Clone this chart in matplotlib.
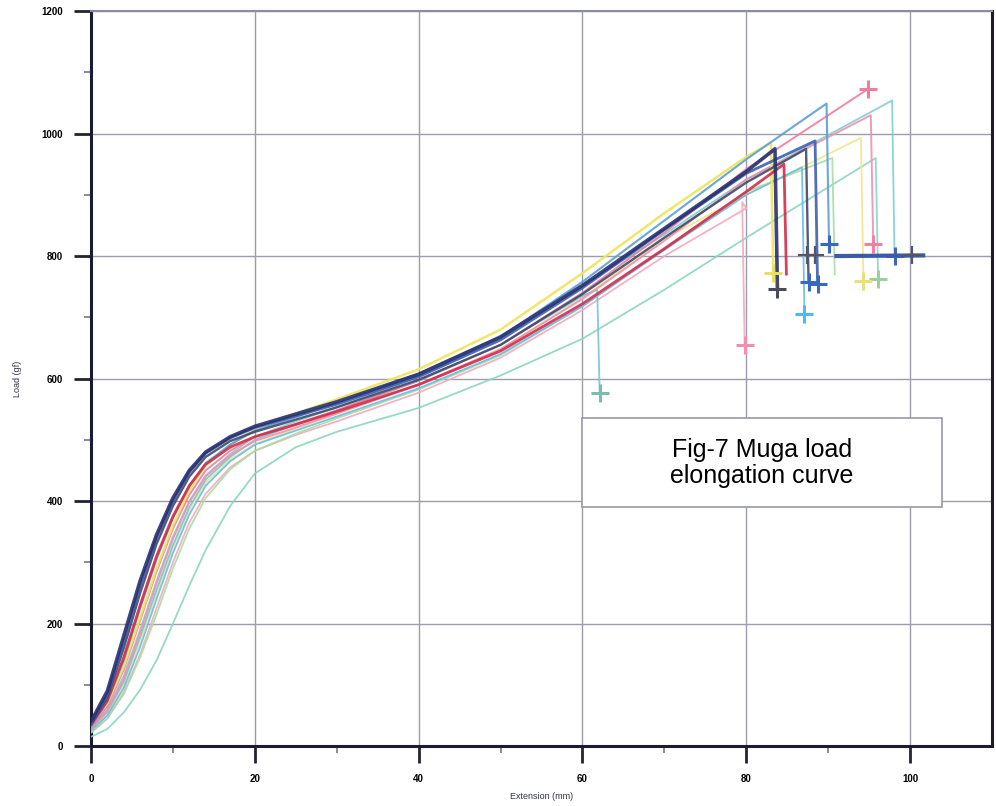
"""Muga load-elongation curves (Fig-7)."""

import matplotlib

matplotlib.use("Agg")
import matplotlib.pyplot as plt
from matplotlib.patches import Rectangle

# extension grid (mm) at which each specimen's load (gf) was read
ext_grid = [0, 2, 4, 6, 8, 10, 12, 14, 17, 20, 25, 30, 40, 50, 60, 70, 80]

load_teal_low = [15, 28, 55, 92, 140, 200, 262, 320, 392, 445, 488, 513, 552, 605, 665, 745, 830]
load_pink_light = [22, 45, 88, 150, 225, 300, 365, 412, 455, 482, 508, 530, 577, 634, 712, 800, 878]
load_green = [22, 45, 85, 145, 215, 290, 355, 405, 452, 482, 510, 535, 582, 638, 718, 812, 905]
load_yellow_pale = [25, 52, 100, 170, 248, 322, 385, 430, 468, 493, 518, 542, 590, 648, 732, 828, 900]
load_cyan_light = [25, 50, 95, 162, 240, 315, 378, 425, 465, 492, 515, 538, 584, 640, 718, 810, 900]
load_cyan = [28, 56, 105, 178, 255, 328, 390, 435, 472, 500, 525, 548, 596, 655, 735]
load_teal = [28, 60, 115, 190, 270, 342, 400, 442, 477, 505, 530, 553, 603, 665, 752, 835, 925]
load_pink = [28, 58, 110, 185, 265, 338, 398, 440, 475, 498, 520, 543, 590, 648, 730, 825, 925]
load_pink_star = [30, 65, 125, 205, 285, 355, 410, 450, 482, 505, 526, 548, 597, 655, 740, 838, 942]
load_yellow = [35, 70, 130, 210, 290, 360, 418, 458, 492, 518, 543, 566, 615, 680, 772, 870, 962]
load_sky = [32, 72, 140, 225, 305, 372, 425, 462, 492, 515, 537, 560, 608, 668, 758, 858, 958]
load_red = [35, 75, 145, 230, 310, 375, 425, 460, 488, 505, 525, 546, 590, 645, 722, 812, 905]
load_slate = [35, 80, 160, 250, 330, 392, 440, 472, 498, 513, 533, 553, 598, 655, 738, 830, 920]
load_blue = [38, 85, 170, 262, 340, 400, 447, 478, 503, 520, 539, 558, 603, 663, 748, 843, 935]
load_navy = [40, 90, 180, 270, 345, 405, 450, 480, 505, 522, 542, 562, 607, 668, 752, 845, 938]

curves = [load_teal_low, load_pink_light, load_green, load_yellow_pale, load_cyan_light,
          load_cyan, load_teal, load_pink, load_pink_star, load_yellow, load_sky,
          load_red, load_slate, load_blue, load_navy]

# peak (extension, load) and load after break, same order as curves
peak_ext = [95.8, 79.5, 90.5, 94.0, 86.8, 61.8, 97.8, 95.2, 94.9, 83.0, 89.8, 84.6, 87.3, 88.4, 83.5]
peak_load = [960, 888, 960, 993, 945, 745, 1054, 1030, 1073, 985, 1049, 950, 975, 988, 975]
break_load = [763, 654, 770, 760, 706, 576, 800, 820, None, 772, 820, 770, 757, 754, 747]

# loose break markers and the flat tail recorded after one break
extra_ext = [87.4, 88.4, 100.2]
extra_load = [801, 801, 801]
tail_ext = [91.0, 101.6]
tail_load = [800, 801]

colors = ["#8ad6c0", "#f4a8c0", "#a6dea0", "#f0e68a", "#66bce8", "#70c6d6", "#7fd0d0",
          "#f090b0", "#f07c9e", "#eee45a", "#5a9ed8", "#d42c48", "#404a68", "#3d5fae", "#283070"]
marker_colors = ["#9ccf9c", "#f090ae", None, "#e8e07a", "#50b8f0", "#7abcb0", "#3a68c0",
                 "#f080a4", "#f07c9e", "#e8e060", "#3a68c0", None, "#3a68c0", "#3a68c0", "#4a4a5a"]
widths = [1.3, 1.3, 1.3, 1.3, 1.3, 1.3, 1.3, 1.4, 1.4, 1.8, 1.5, 2.0, 1.7, 2.0, 2.6]

plt.rcParams["font.family"] = ["Liberation Sans", "DejaVu Sans"]

fig = plt.figure(figsize=(9.96, 8.06), dpi=100)
ax = fig.add_axes([0.0914, 0.0744, 0.9046, 0.9119])

for loads, px, py, by, col, mcol, lw in zip(curves, peak_ext, peak_load, break_load,
                                             colors, marker_colors, widths):
    xs = ext_grid[:len(loads)] + [px]
    ys = loads + [py]
    if by is not None:
        xs = xs + [px + 0.3]
        ys = ys + [by]
    ax.plot(xs, ys, color=col, lw=lw, alpha=0.9, solid_capstyle="round", zorder=3)
    if mcol is not None:
        ax.plot(xs[-1], ys[-1], marker="+", ms=13, mew=2.2, color=mcol, zorder=4)

ax.plot(tail_ext, tail_load, color="#3a5ca8", lw=3, zorder=4)
ax.plot(extra_ext, extra_load, ls="none", marker="+", ms=13, mew=1.6,
        color="#55556a", zorder=5)

ax.set_xlim(0, 110)
ax.set_ylim(0, 1200)
ax.set_xticks(range(0, 101, 20))
ax.set_xticks(range(10, 101, 20), minor=True)
ax.set_yticks(range(0, 1201, 200))
ax.set_yticks(range(100, 1200, 200), minor=True)
ax.grid(True, which="major", color="#9c9cac", lw=1)
ax.tick_params(which="major", direction="out", length=12, width=2, color="#222233",
               labelsize=7, pad=8)
ax.tick_params(which="minor", direction="out", length=5, width=1.2, color="#777788")
for lab in ax.get_xticklabels() + ax.get_yticklabels():
    lab.set_fontweight("bold")

for side in ["left", "bottom", "right"]:
    ax.spines[side].set_color("#1c1c30")
    ax.spines[side].set_linewidth(2.2)
ax.spines["top"].set_color("#8c8ca0")
ax.spines["top"].set_linewidth(1.5)

ax.set_xlabel("Extension (mm)", fontsize=6.5, color="#333344", labelpad=6)
ax.set_ylabel("Load (gf)", fontsize=6.5, color="#333344", labelpad=14)

ax.add_patch(Rectangle((59.9, 390), 44.0, 145, facecolor="white",
                       edgecolor="#9a9aa8", lw=1.2, zorder=6))
ax.text(81.9, 462, "Fig-7 Muga load\nelongation curve", fontsize=18,
        ha="center", va="center", linespacing=1.15, zorder=7)

fig.savefig("out.png", dpi=100)
